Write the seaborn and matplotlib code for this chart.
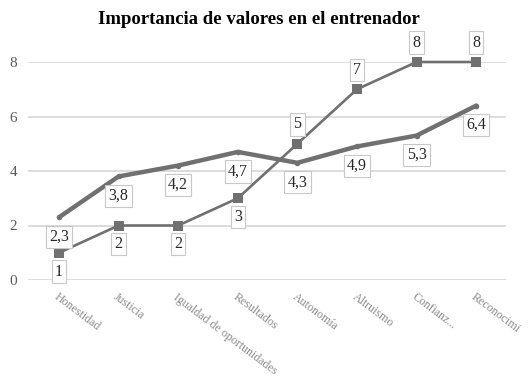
import matplotlib
matplotlib.use("Agg")
import matplotlib.pyplot as plt
import seaborn as sns
import pandas as pd

categories = ["Honestidad", "Justicia", "Igualdad de oportunidades", "Resultados",
              "Autonomía", "Altruismo", "Confianz...", "Reconocimi"]
serie_a = [1, 2, 2, 3, 5, 7, 8, 8]
serie_b = [2.3, 3.8, 4.2, 4.7, 4.3, 4.9, 5.3, 6.4]
labels_a = ["1", "2", "2", "3", "5", "7", "8", "8"]
labels_b = ["2,3", "3,8", "4,2", "4,7", "4,3", "4,9", "5,3", "6,4"]
y_ticks = [0, 2, 4, 6, 8]

sns.set_theme(style="white")
plt.rcParams['font.family'] = ['Liberation Serif', 'DejaVu Serif']

fig = plt.figure(figsize=(5.28, 3.83), dpi=100)
ax = fig.add_axes([28/528, 1-280/383, (506-28)/528, (280-62)/383])

x = list(range(len(categories)))
df = pd.DataFrame({"x": x * 2,
                   "v": serie_a + serie_b,
                   "s": ["A"] * len(x) + ["B"] * len(x)})

gray = "#707070"
sns.lineplot(data=df[df.s == "B"], x="x", y="v", ax=ax, color=gray, lw=3.2,
             marker="o", markersize=4, markeredgewidth=0, legend=False)
sns.lineplot(data=df[df.s == "A"], x="x", y="v", ax=ax, color=gray, lw=1.9,
             marker="s", markersize=6.5, markeredgewidth=0, legend=False)
for line in ax.lines:
    line.set_clip_on(False)

box = dict(boxstyle="square,pad=0.2", fc="white", ec="#c8c8c8", lw=0.8)
for i, (v, lab) in enumerate(zip(serie_a, labels_a)):
    dy = -13.5 if i < 4 else 14
    ax.annotate(lab, (i, v), xytext=(0, dy), textcoords="offset points",
                ha="center", va="center", fontsize=11.5, color="#262626",
                bbox=box, annotation_clip=False)
for i, (v, lab) in enumerate(zip(serie_b, labels_b)):
    ax.annotate(lab, (i, v), xytext=(0, -14), textcoords="offset points",
                ha="center", va="center", fontsize=11.5, color="#262626",
                bbox=box, annotation_clip=False)

ax.set_xlim(-0.52, 7.5)
ax.set_ylim(0, 8)
ax.set_yticks(y_ticks)
ax.set_yticklabels([str(t) for t in y_ticks], fontsize=11, color="#595959")
ax.yaxis.grid(True, color="#d9d9d9", lw=1.3)
ax.set_axisbelow(True)
ax.set_xticks(x)
ax.set_xticklabels(categories, rotation=-37, ha="left", va="top",
                   rotation_mode="anchor", fontsize=8.6, color="#8a8a8a")
ax.tick_params(axis="x", length=0, pad=8)
ax.tick_params(axis="y", length=0, pad=7.7)
ax.set_xlabel("")
ax.set_ylabel("")
for sp in ax.spines.values():
    sp.set_visible(False)

fig.text(259/528, 1-20/383, "Importancia de valores en el entrenador",
         ha="center", va="center", fontsize=13.5, fontweight="bold", color="black")

fig.savefig("out.png", dpi=100)
